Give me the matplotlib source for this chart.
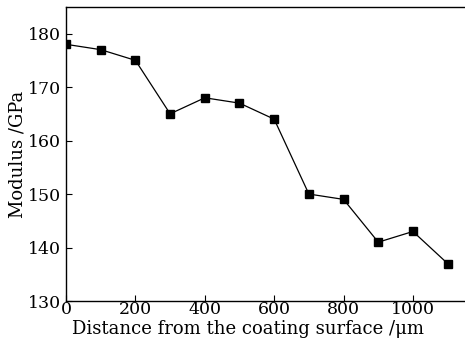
import numpy as np
import matplotlib.pyplot as plt

# distance (um) vs modulus (GPa)
distance = [0, 100, 200, 300, 400, 500, 600, 700, 800, 900, 1000, 1100]
modulus = [178, 177, 175, 165, 168, 167, 164, 150, 149, 141, 143, 137]

xticks = [0, 200, 400, 600, 800, 1000]
yticks = [130, 140, 150, 160, 170, 180]

plt.rcParams['font.family'] = ['DejaVu Serif']
plt.rcParams['mathtext.fontset'] = 'dejavuserif'

fig = plt.figure(figsize=(4.65, 3.44), dpi=100)
ax = fig.add_axes([0.142, 0.125, 0.858, 0.855])

ax.plot(distance, modulus, color='black', lw=0.9, marker='s', ms=5.5,
        mfc='black', mec='black')

ax.set_xlim(0, 1150)
ax.set_ylim(130, 185)
ax.set_xticks(xticks)
ax.set_yticks(yticks)
ax.tick_params(direction='in', length=4, width=0.8, labelsize=12.5)
ax.tick_params(axis='x', pad=0)
ax.tick_params(axis='y', pad=3.5)
ax.spines['right'].set_visible(False)
for s in ['left', 'bottom', 'top']:
    ax.spines[s].set_linewidth(1.0)

ax.set_xlabel('Distance from the coating surface /\u03bcm', fontsize=13, labelpad=-1)
ax.xaxis.set_label_coords(0.455, -0.065)
ax.set_ylabel('Modulus /GPa', fontsize=13, labelpad=1)

fig.savefig('out.png', dpi=100)
